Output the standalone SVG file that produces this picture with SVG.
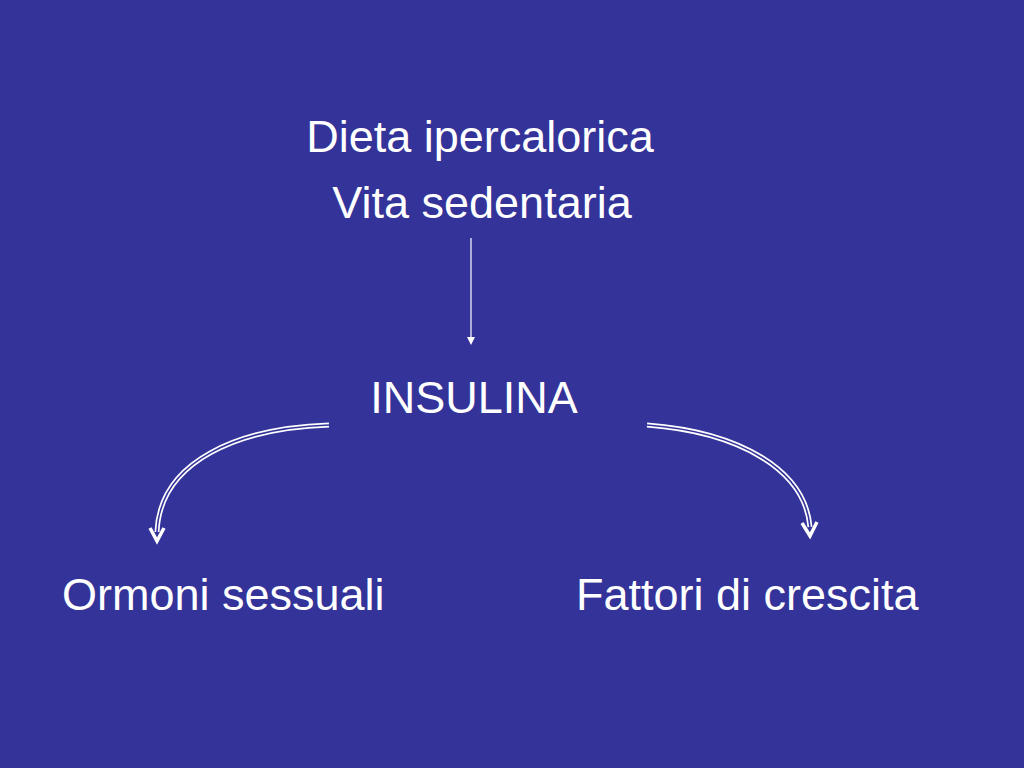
<svg xmlns="http://www.w3.org/2000/svg" width="1024" height="768" viewBox="0 0 1024 768">
<style>
text{font-family:"Liberation Sans",Arial,sans-serif;font-size:45px;fill:#fff}
.dl{fill:none;stroke:#fff;stroke-width:5}
.di{fill:none;stroke:#333399;stroke-width:1.6}
.hd{fill:none;stroke:#fff;stroke-width:3.5;stroke-linejoin:miter}
</style>
<defs>
<marker id="tri" markerWidth="8" markerHeight="8" refX="6" refY="4" orient="auto" markerUnits="userSpaceOnUse">
<path d="M0,0 L8,4 L0,8 Z" fill="#fff"/>
</marker>
</defs>
<rect width="1024" height="768" fill="#333399"/>
<g id="n-dieta"><text x="480" y="152" text-anchor="middle">Dieta ipercalorica</text><text x="482" y="218" text-anchor="middle">Vita sedentaria</text></g>
<g id="n-insulina"><text x="474" y="413" text-anchor="middle">INSULINA</text></g>
<g id="n-ormoni"><text x="62" y="610">Ormoni sessuali</text></g>
<g id="n-fattori"><text x="576" y="610">Fattori di crescita</text></g>
<g id="connectors">
<line x1="471" y1="238" x2="471" y2="343" stroke="#fff" stroke-width="1.2" marker-end="url(#tri)"/>
<path class="dl" d="M329,425 C240,428 160,460 157,532"/>
<path class="di" d="M329,425 C240,428 160,460 157,532"/>
<path class="hd" d="M150,528 L157,541 L164,528"/>
<path class="dl" d="M647,425 C740,432 805,470 810,527"/>
<path class="di" d="M647,425 C740,432 805,470 810,527"/>
<path class="hd" d="M802,523 L810,536 L817,522"/>
</g>
</svg>
